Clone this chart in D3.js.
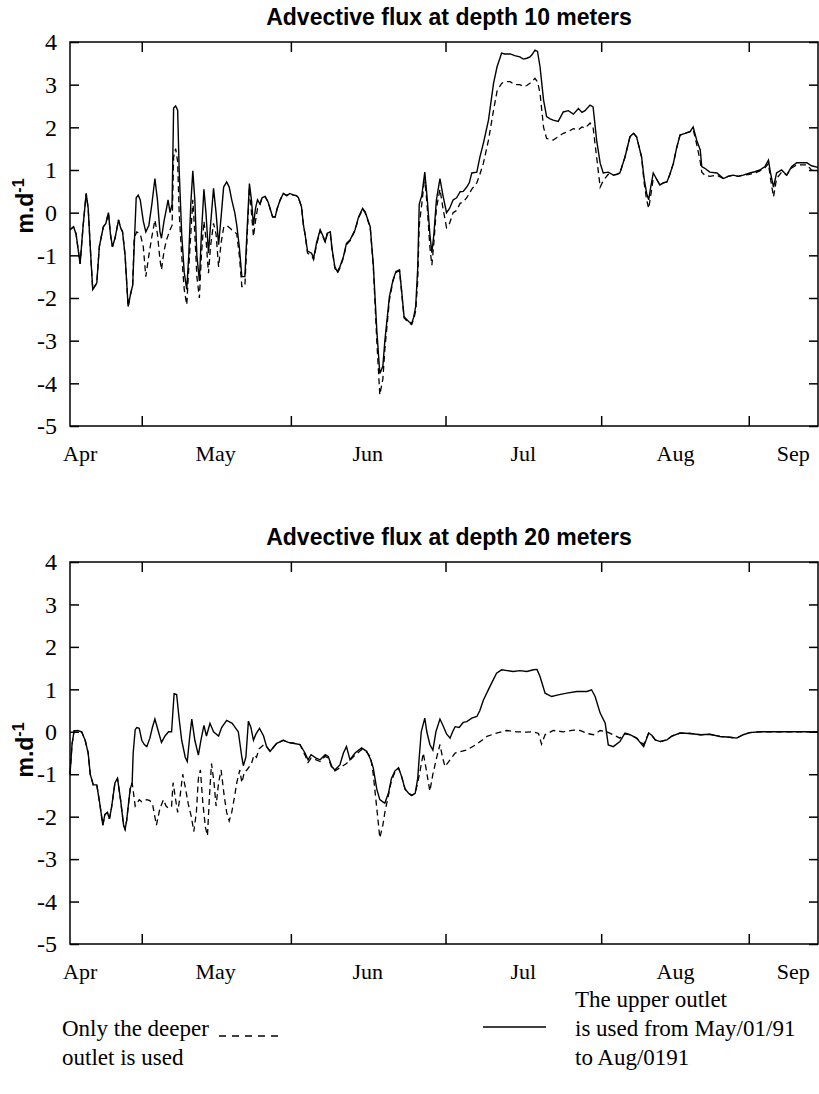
<!DOCTYPE html>
<html lang="en">
<head>
<meta charset="UTF-8" />
<title>Advective flux at depth 10 and 20 meters</title>
<script src="https://d3js.org/d3.v7.min.js"></script>
<style>
  body { margin: 0; background: #fff; }
  svg { display: block; }
  .serif { font-family: 'Liberation Serif', 'Times New Roman', serif; font-size: 23px; fill: #000; }
  .title { font-family: 'Liberation Sans', Arial, sans-serif; font-weight: bold; font-size: 23px; fill: #000; }
  .ylab { font-family: 'Liberation Sans', Arial, sans-serif; font-weight: bold; font-size: 23px; fill: #000; }
  .axis text { font-family: 'Liberation Serif', 'Times New Roman', serif; font-size: 22px; fill: #000; }
  .axis.yax text { font-size: 24px; }
  .axis line { stroke: #000; stroke-width: 1.5; }
  .axis path { display: none; }
</style>
</head>
<body>
<div id="chart"></div>
<script>
// x axis is in days from start of April
const xTickDays = [14.2, 43.7, 74.3, 105.1, 134.3];
const monthNames = ['Apr', 'May', 'Jun', 'Jul', 'Aug', 'Sep'];
const monthDays = [1.9, 28.7, 58.8, 89.6, 119.7, 143.0];
const yTicks = [-5, -4, -3, -2, -1, 0, 1, 2, 3, 4];

// depth 10 m, solid: upper outlet used from May/01 to Aug/01
const top10Upper = [[0,-0.4],[0.7,-0.33],[1.2,-0.5],[2.0,-1.2],[2.6,-0.3],[3.2,0.45],[3.6,0.1],[4.1,-1.0],[4.5,-1.8],[5.3,-1.65],[5.8,-0.8],[6.3,-0.5],[6.6,-0.33],[7.1,-0.25],[7.6,0.0],[8.0,-0.5],[8.4,-0.8],[8.9,-0.6],[9.4,-0.3],[9.6,-0.17],[10.0,-0.35],[10.4,-0.45],[10.9,-1.0],[11.5,-2.2],[12.0,-1.9],[12.4,-1.7],[12.7,-0.8],[13.1,0.35],[13.5,0.41],[13.9,0.3],[14.5,-0.2],[15.0,-0.45],[15.6,-0.3],[16.2,0.2],[16.8,0.8],[17.3,0.3],[17.8,-0.45],[18.1,-0.6],[18.6,-0.2],[19.1,0.1],[19.4,0.3],[19.8,0.0],[20.2,0.2],[20.5,2.45],[20.9,2.5],[21.3,2.4],[21.6,1.0],[22.1,-0.5],[22.6,-1.4],[23.1,-1.8],[23.5,-1.0],[23.9,0.2],[24.3,0.98],[24.7,0.3],[25.1,-1.0],[25.6,-1.6],[26.0,-0.5],[26.5,0.55],[26.9,0.0],[27.4,-0.95],[27.8,-0.3],[28.4,0.57],[28.9,0.0],[29.4,-0.75],[29.9,-0.1],[30.4,0.6],[31.0,0.72],[31.5,0.6],[32.0,0.3],[32.6,0.0],[33.0,-0.3],[33.5,-0.8],[34.0,-1.5],[34.6,-1.5],[35.0,-0.5],[35.5,0.68],[35.9,0.3],[36.3,-0.3],[36.7,0.1],[37.1,0.3],[37.6,0.2],[38.0,0.35],[38.6,0.38],[39.2,0.25],[39.7,0.05],[40.1,-0.1],[40.6,-0.1],[41.0,0.1],[41.6,0.3],[42.2,0.45],[42.9,0.4],[43.5,0.45],[44.2,0.41],[44.8,0.4],[45.2,0.35],[45.8,0.14],[46.2,-0.3],[46.5,-0.5],[47.0,-0.9],[47.8,-0.95],[48.2,-1.07],[48.8,-0.7],[49.5,-0.4],[50.1,-0.56],[50.5,-0.68],[50.9,-0.48],[51.5,-0.45],[51.8,-0.8],[52.4,-1.27],[52.9,-1.38],[53.4,-1.27],[54.1,-1.03],[54.7,-0.72],[55.4,-0.64],[56.4,-0.4],[57.1,-0.1],[57.9,0.1],[58.4,0.02],[59.4,-0.33],[60.0,-1.19],[60.7,-2.75],[61.3,-3.77],[61.9,-3.6],[62.3,-3.0],[63.2,-1.97],[63.9,-1.58],[64.5,-1.38],[65.2,-1.34],[65.6,-1.81],[66.1,-2.44],[67.0,-2.55],[67.6,-2.6],[68.0,-2.45],[68.4,-2.2],[68.8,-1.3],[69.1,0.2],[69.6,0.4],[70.2,0.95],[70.7,0.3],[71.2,-0.5],[71.6,-0.94],[72.0,-0.5],[72.5,0.3],[73.2,0.8],[73.8,0.4],[74.5,0.0],[75.1,0.1],[75.8,0.3],[76.5,0.35],[77.2,0.49],[77.8,0.5],[78.5,0.6],[79.0,0.7],[79.5,0.93],[80.5,0.95],[81.1,1.3],[81.8,1.63],[82.8,2.17],[83.8,3.03],[84.5,3.42],[85.4,3.74],[86.0,3.72],[87.1,3.72],[88.0,3.68],[89.0,3.65],[89.7,3.6],[90.4,3.62],[91.0,3.65],[91.4,3.7],[92.0,3.81],[92.5,3.78],[93.0,3.42],[93.7,2.64],[94.3,2.25],[95.0,2.2],[95.6,2.17],[96.6,2.14],[97.6,2.36],[98.6,2.39],[99.6,2.31],[100.6,2.44],[101.3,2.35],[101.9,2.39],[102.9,2.52],[103.5,2.48],[104.2,1.7],[104.9,1.16],[105.5,0.93],[106.5,0.95],[107.5,0.88],[108.2,0.9],[108.8,0.93],[109.8,1.3],[110.8,1.78],[111.5,1.86],[112.1,1.78],[113.1,1.3],[113.6,0.8],[114.1,0.45],[114.5,0.3],[114.9,0.6],[115.4,0.93],[116.0,0.8],[116.7,0.65],[117.4,0.7],[118.1,0.72],[118.7,0.9],[119.4,1.16],[120.0,1.5],[120.7,1.82],[121.7,1.86],[122.7,1.9],[123.3,2.01],[124.0,1.7],[124.7,1.47],[125.0,1.08],[125.6,1.04],[126.6,0.95],[128.0,0.93],[129.3,0.8],[130.2,0.85],[131.2,0.88],[132.2,0.85],[133.2,0.88],[134.5,0.93],[135.5,0.96],[136.5,1.0],[137.5,1.08],[138.2,1.23],[138.6,0.93],[139.2,0.6],[139.8,0.93],[140.8,1.0],[141.8,0.88],[142.8,1.08],[143.8,1.17],[145.8,1.17],[146.7,1.1],[148,1.06]];

// depth 10 m, dashed: only the deeper outlet
const top10Deeper = [[0,-0.4],[0.7,-0.33],[1.2,-0.5],[2.0,-1.2],[2.6,-0.3],[3.2,0.45],[3.6,0.1],[4.1,-1.0],[4.5,-1.8],[5.3,-1.65],[5.8,-0.8],[6.3,-0.5],[6.6,-0.33],[7.1,-0.25],[7.6,0.0],[8.0,-0.5],[8.4,-0.8],[8.9,-0.6],[9.4,-0.3],[9.6,-0.17],[10.0,-0.35],[10.4,-0.45],[10.9,-1.0],[11.5,-2.2],[12.0,-1.9],[12.4,-1.7],[12.7,-0.6],[13.2,-0.45],[13.9,-0.5],[14.5,-0.8],[15.0,-1.5],[15.6,-1.0],[16.2,-0.56],[16.8,-0.17],[17.3,-0.5],[17.8,-1.1],[18.1,-1.34],[18.6,-0.9],[19.1,-0.64],[19.8,-0.4],[20.2,-0.3],[20.5,1.3],[20.9,1.5],[21.3,1.2],[21.6,0.0],[22.1,-1.0],[22.6,-1.8],[23.1,-2.16],[23.5,-1.3],[23.9,-0.5],[24.3,0.3],[24.7,-0.5],[25.1,-1.5],[25.6,-2.0],[26.0,-1.0],[26.5,-0.2],[26.9,-0.6],[27.4,-1.42],[27.8,-0.8],[28.4,-0.25],[28.9,-0.5],[29.4,-1.27],[29.9,-0.7],[30.4,-0.35],[31.0,-0.3],[31.5,-0.35],[32.0,-0.4],[32.6,-0.45],[33.0,-0.5],[33.5,-1.0],[34.0,-1.73],[34.6,-1.73],[35.0,-0.7],[35.5,0.6],[35.9,0.0],[36.3,-0.56],[36.7,-0.2],[37.1,0.1],[37.6,0.2],[38.0,0.35],[38.6,0.38],[39.2,0.25],[39.7,0.05],[40.1,-0.1],[40.6,-0.1],[41.0,0.1],[41.6,0.3],[42.2,0.45],[42.9,0.4],[43.5,0.45],[44.2,0.41],[44.8,0.4],[45.2,0.35],[45.8,0.14],[46.2,-0.3],[46.5,-0.5],[47.0,-0.95],[47.8,-1.0],[48.2,-1.1],[48.8,-0.75],[49.5,-0.42],[50.1,-0.58],[50.5,-0.7],[50.9,-0.5],[51.5,-0.47],[51.8,-0.82],[52.4,-1.3],[52.9,-1.42],[53.4,-1.3],[54.1,-1.06],[54.7,-0.75],[55.4,-0.66],[56.4,-0.42],[57.1,-0.12],[57.9,0.08],[58.4,0.0],[59.4,-0.35],[60.0,-1.25],[60.7,-3.0],[61.3,-4.27],[61.9,-3.9],[62.3,-3.2],[63.2,-2.05],[63.9,-1.6],[64.5,-1.4],[65.2,-1.36],[65.6,-1.85],[66.1,-2.47],[67.0,-2.58],[67.6,-2.62],[68.0,-2.5],[68.4,-2.3],[68.8,-1.6],[69.1,-0.3],[69.6,0.2],[70.2,0.85],[70.7,0.1],[71.2,-0.8],[71.6,-1.23],[72.0,-0.7],[72.5,0.1],[73.2,0.55],[73.8,0.1],[74.5,-0.35],[75.1,-0.25],[75.8,0.0],[76.5,0.05],[77.2,0.22],[77.8,0.25],[78.5,0.35],[79.5,0.55],[80.5,0.7],[81.1,0.9],[81.8,1.16],[82.8,1.7],[83.8,2.4],[84.5,2.85],[85.4,3.03],[86.0,3.07],[87.1,3.07],[88.0,3.0],[89.0,3.0],[89.7,2.96],[90.4,2.98],[91.4,3.07],[92.0,3.15],[92.5,3.07],[93.0,2.8],[93.7,2.0],[94.3,1.74],[95.6,1.7],[96.6,1.78],[97.6,1.86],[98.6,1.9],[99.6,1.97],[100.6,1.94],[101.3,2.01],[101.9,1.98],[102.9,2.1],[103.5,2.0],[104.2,1.3],[104.9,0.6],[105.5,0.75],[106.5,0.9],[107.5,0.88],[108.2,0.9],[108.8,0.93],[109.8,1.3],[110.8,1.78],[111.5,1.86],[112.1,1.78],[113.1,1.3],[113.6,0.7],[114.1,0.3],[114.5,0.1],[114.9,0.4],[115.4,0.8],[116.0,0.8],[116.7,0.65],[117.4,0.7],[118.1,0.72],[118.7,0.9],[119.4,1.16],[120.0,1.5],[120.7,1.82],[121.7,1.86],[122.7,1.9],[123.3,1.95],[124.0,1.6],[124.7,1.2],[125.0,0.95],[125.6,0.88],[126.6,0.85],[128.0,0.88],[129.3,0.8],[130.2,0.85],[131.2,0.88],[132.2,0.85],[133.2,0.88],[134.5,0.9],[135.5,0.93],[136.5,0.98],[137.5,1.05],[138.2,1.15],[138.6,0.8],[139.2,0.37],[139.8,0.8],[140.8,0.95],[141.8,0.88],[142.8,1.05],[143.8,1.12],[145.8,1.12],[146.7,1.0],[148,0.95]];

// depth 20 m, solid
const bot20Upper = [[0,-1.0],[0.4,-0.3],[0.8,0.02],[1.5,0.03],[2.3,0.0],[3.0,-0.2],[3.6,-0.5],[4.0,-1.0],[4.6,-1.25],[5.3,-1.25],[5.9,-1.7],[6.5,-2.2],[6.9,-1.95],[7.4,-1.9],[7.8,-2.05],[8.2,-1.8],[8.9,-1.2],[9.4,-1.1],[10.0,-1.6],[10.6,-2.2],[10.9,-2.3],[11.2,-2.1],[11.9,-1.35],[12.3,-1.2],[12.5,-0.5],[12.9,0.05],[13.2,0.1],[13.7,0.08],[14.2,-0.2],[14.7,-0.3],[15.2,-0.35],[15.8,-0.15],[16.3,0.1],[16.8,0.3],[17.5,0.0],[18.1,-0.25],[18.8,-0.1],[19.5,0.0],[20.1,0.0],[20.6,0.9],[21.1,0.88],[21.6,0.3],[22.1,-0.2],[22.8,-0.6],[23.2,-0.7],[23.7,-0.1],[24.1,0.3],[24.7,-0.2],[25.4,-0.55],[25.9,-0.2],[26.5,0.15],[27.0,-0.1],[27.7,0.2],[28.4,0.0],[29.4,-0.1],[30.0,0.1],[31.0,0.27],[32.1,0.2],[32.7,0.1],[33.3,0.0],[34.0,-0.6],[34.3,-0.8],[34.8,-0.6],[35.3,0.25],[35.8,0.1],[36.3,-0.2],[36.8,-0.05],[37.5,0.08],[38.3,-0.1],[38.9,-0.35],[39.6,-0.46],[40.9,-0.27],[42.2,-0.2],[43.2,-0.25],[44.2,-0.27],[45.5,-0.3],[46.5,-0.5],[47.1,-0.66],[47.7,-0.54],[48.7,-0.62],[49.5,-0.66],[50.5,-0.54],[51.1,-0.58],[51.8,-0.82],[52.4,-0.9],[53.4,-0.78],[54.1,-0.5],[54.7,-0.35],[55.4,-0.66],[56.4,-0.5],[57.7,-0.38],[58.7,-0.46],[59.5,-0.66],[60.0,-0.85],[60.7,-1.35],[61.3,-1.6],[61.9,-1.65],[62.3,-1.68],[63.0,-1.45],[63.6,-1.1],[64.3,-0.92],[65.0,-0.85],[65.6,-1.05],[66.3,-1.35],[67.0,-1.45],[67.6,-1.5],[68.3,-1.45],[68.8,-1.1],[69.1,-0.6],[69.5,0.0],[70.2,0.32],[70.6,0.0],[71.2,-0.3],[71.8,-0.43],[72.4,0.0],[73.2,0.3],[73.8,0.15],[74.5,-0.05],[75.2,-0.15],[75.7,0.0],[76.2,0.12],[77.0,0.1],[77.8,0.22],[78.5,0.24],[79.5,0.32],[80.5,0.36],[81.1,0.5],[81.8,0.75],[83.1,1.07],[84.4,1.38],[85.4,1.46],[86.5,1.44],[87.7,1.42],[89.0,1.44],[90.4,1.42],[91.7,1.46],[92.4,1.47],[93.0,1.3],[94.0,0.91],[95.3,0.83],[96.6,0.87],[98.3,0.91],[100.3,0.95],[102.3,0.95],[103.2,0.99],[103.9,0.83],[104.9,0.44],[105.9,0.2],[106.5,-0.31],[107.5,-0.35],[108.8,-0.23],[109.8,-0.03],[110.8,-0.07],[112.1,-0.15],[113.5,-0.35],[114.5,-0.03],[115.1,-0.08],[115.8,-0.19],[116.8,-0.23],[118.1,-0.19],[119.1,-0.1],[120.7,-0.03],[122.7,-0.04],[124.7,-0.07],[126.6,-0.06],[128.6,-0.11],[130.6,-0.13],[131.9,-0.15],[133.2,-0.07],[134.5,-0.02],[136.5,0.0],[148,0.0]];

// depth 20 m, dashed
const bot20Deeper = [[0,-1.0],[0.4,-0.3],[0.8,0.02],[1.5,0.03],[2.3,0.0],[3.0,-0.2],[3.6,-0.5],[4.0,-1.0],[4.6,-1.25],[5.3,-1.25],[5.9,-1.7],[6.5,-2.2],[6.9,-1.95],[7.4,-1.9],[7.8,-2.05],[8.2,-1.8],[8.9,-1.2],[9.4,-1.1],[10.0,-1.6],[10.6,-2.2],[10.9,-2.3],[11.2,-2.1],[11.9,-1.35],[12.3,-1.2],[12.9,-1.75],[13.7,-1.6],[14.2,-1.65],[15.2,-1.6],[15.8,-1.62],[16.4,-1.75],[17.1,-2.2],[17.8,-1.8],[18.5,-1.6],[19.0,-1.75],[19.5,-1.8],[20.1,-1.75],[20.4,-1.2],[20.9,-1.6],[21.3,-1.9],[21.8,-1.5],[22.3,-1.0],[22.8,-1.3],[23.4,-1.7],[24.0,-2.0],[24.5,-2.35],[25.0,-1.9],[25.4,-1.1],[25.8,-0.9],[26.3,-1.7],[26.8,-2.25],[27.2,-2.45],[27.6,-1.5],[28.0,-0.75],[28.5,-1.2],[28.9,-1.75],[29.4,-1.2],[29.9,-0.9],[30.5,-1.5],[31.0,-1.9],[31.5,-2.1],[32.0,-1.9],[32.6,-1.5],[33.0,-1.2],[33.6,-0.9],[34.0,-1.2],[34.5,-0.95],[35.0,-0.9],[35.9,-0.75],[36.4,-0.55],[36.9,-0.6],[37.4,-0.4],[37.9,-0.35],[38.4,-0.3],[38.9,-0.35],[39.6,-0.46],[40.9,-0.27],[42.2,-0.2],[43.2,-0.25],[44.2,-0.27],[45.5,-0.3],[46.5,-0.55],[47.1,-0.72],[47.7,-0.62],[48.7,-0.66],[49.5,-0.7],[50.5,-0.58],[51.1,-0.62],[51.8,-0.85],[52.4,-0.92],[53.4,-0.85],[54.7,-0.75],[56.4,-0.55],[57.7,-0.42],[58.7,-0.48],[59.5,-0.6],[60.0,-1.0],[60.7,-1.8],[61.3,-2.5],[61.9,-2.2],[62.3,-1.9],[63.0,-1.5],[63.6,-1.15],[64.3,-0.95],[65.0,-0.85],[65.6,-1.05],[66.3,-1.35],[67.0,-1.45],[67.6,-1.5],[68.3,-1.45],[68.8,-1.2],[69.3,-0.9],[69.9,-0.5],[70.5,-0.9],[71.2,-1.4],[71.8,-1.0],[72.6,-0.58],[73.2,-0.3],[73.7,-0.6],[74.2,-0.82],[75.2,-0.66],[76.2,-0.5],[78.5,-0.43],[80.5,-0.29],[82.5,-0.11],[84.4,-0.03],[86.4,0.03],[88.4,0.0],[90.4,-0.01],[91.7,0.0],[92.7,-0.04],[93.3,-0.29],[94.0,-0.07],[95.6,0.03],[97.6,0.0],[99.6,0.04],[100.9,0.03],[102.3,-0.04],[103.6,-0.07],[104.9,0.03],[106.2,0.0],[107.5,-0.07],[108.8,-0.15],[109.8,-0.05],[110.8,-0.07],[112.1,-0.15],[113.5,-0.3],[114.5,-0.03],[115.1,-0.08],[115.8,-0.19],[116.8,-0.23],[118.1,-0.19],[119.1,-0.1],[120.7,-0.03],[122.7,-0.04],[124.7,-0.07],[126.6,-0.06],[128.6,-0.11],[130.6,-0.13],[131.9,-0.15],[133.2,-0.07],[134.5,-0.02],[136.5,0.0],[148,0.0]];

const panels = [
  { title: 'Advective flux at depth 10 meters', upper: top10Upper, deeper: top10Deeper, top: 42, bottom: 426, titleY: 25, ylabY: 206 },
  { title: 'Advective flux at depth 20 meters', upper: bot20Upper, deeper: bot20Deeper, top: 562, bottom: 944, titleY: 545, ylabY: 750 }
];

const W = 819, H = 1094;
const left = 70, right = 818;

const svg = d3.select('#chart').append('svg')
  .attr('width', W).attr('height', H);

const x = d3.scaleLinear().domain([0, 148]).range([left, right]);

panels.forEach(p => {
  const y = d3.scaleLinear().domain([-5, 4]).range([p.bottom, p.top]);
  const g = svg.append('g');

  // title
  g.append('text').attr('class', 'title')
    .attr('x', 449).attr('y', p.titleY)
    .attr('text-anchor', 'middle')
    .text(p.title);

  // y label m.d-1
  const yl = g.append('text').attr('class', 'ylab')
    .attr('transform', `translate(33,${p.ylabY}) rotate(-90)`)
    .attr('text-anchor', 'middle');
  yl.append('tspan').text('m.d');
  yl.append('tspan').attr('dy', -9).attr('font-size', 16).text('-1');

  // data lines
  const line = d3.line().x(d => x(d[0])).y(d => y(d[1]));
  g.append('path').datum(p.deeper)
    .attr('d', line).attr('fill', 'none')
    .attr('stroke', '#000').attr('stroke-width', 1.3)
    .attr('stroke-dasharray', '6,4');
  g.append('path').datum(p.upper)
    .attr('d', line).attr('fill', 'none')
    .attr('stroke', '#000').attr('stroke-width', 1.4);

  // axes with inward ticks
  g.append('g').attr('class', 'axis yax')
    .attr('transform', `translate(${left},0)`)
    .call(d3.axisLeft(y).tickValues(yTicks).tickSize(-9).tickPadding(13).tickFormat(d => String(d)));
  g.append('g').attr('class', 'axis')
    .attr('transform', `translate(${right},0)`)
    .call(d3.axisRight(y).tickValues(yTicks).tickSize(-9).tickFormat(''));
  g.append('g').attr('class', 'axis')
    .attr('transform', `translate(0,${p.top})`)
    .call(d3.axisTop(x).tickValues(xTickDays).tickSize(-10).tickFormat(''));
  g.append('g').attr('class', 'axis')
    .attr('transform', `translate(0,${p.bottom})`)
    .call(d3.axisBottom(x).tickValues(xTickDays).tickSize(-10).tickFormat(''));
  g.append('g').attr('class', 'axis')
    .attr('transform', `translate(0,${p.bottom})`)
    .call(d3.axisBottom(x).tickValues(monthDays).tickSize(0).tickPadding(19)
      .tickFormat((d, i) => monthNames[i]));

  // frame
  g.append('rect')
    .attr('x', left).attr('y', p.top)
    .attr('width', right - left).attr('height', p.bottom - p.top)
    .attr('fill', 'none').attr('stroke', '#000').attr('stroke-width', 1.5);
});

// legend
const leg = svg.append('g');
leg.append('text').attr('class', 'serif').attr('x', 62).attr('y', 1036).text('Only the deeper');
leg.append('text').attr('class', 'serif').attr('x', 62).attr('y', 1065).text('outlet is used');
leg.append('line').attr('x1', 219).attr('x2', 281).attr('y1', 1036).attr('y2', 1036)
  .attr('stroke', '#000').attr('stroke-width', 1.3).attr('stroke-dasharray', '7,6');
leg.append('line').attr('x1', 483).attr('x2', 546).attr('y1', 1027).attr('y2', 1027)
  .attr('stroke', '#000').attr('stroke-width', 1.4);
leg.append('text').attr('class', 'serif').attr('x', 575).attr('y', 1007).text('The upper outlet');
leg.append('text').attr('class', 'serif').attr('x', 575).attr('y', 1036).text('is used from May/01/91');
leg.append('text').attr('class', 'serif').attr('x', 575).attr('y', 1065).text('to Aug/0191');
</script>
</body>
</html>
